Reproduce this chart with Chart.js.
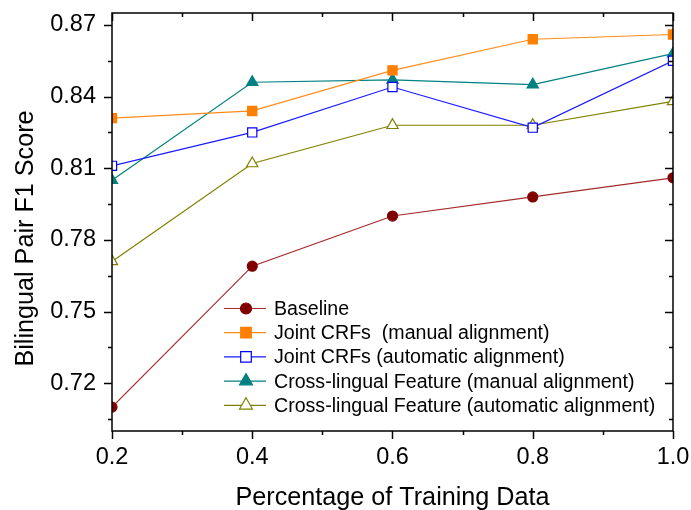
<!DOCTYPE html>
<html>
<head>
<meta charset="utf-8">
<script src="https://cdn.jsdelivr.net/npm/chart.js@4"></script>
<style>
  html, body { margin: 0; padding: 0; background: #fff; }
  #wrap { width: 691px; height: 510px; }
</style>
</head>
<body>
<div id="wrap"><canvas id="f1Chart"></canvas></div>
<script>
// training fraction on x
const fractions = [0.2, 0.4, 0.6, 0.8, 1.0];

// F1 per system
const baseline      = [0.710, 0.769, 0.790, 0.798, 0.806];
const crfManual     = [0.831, 0.834, 0.851, 0.864, 0.866];
const crfAuto       = [0.811, 0.825, 0.844, 0.827, 0.855];
const crossManual   = [0.805, 0.846, 0.847, 0.845, 0.858];
const crossAuto     = [0.771, 0.812, 0.828, 0.828, 0.838];

const yTickValues = [0.72, 0.75, 0.78, 0.81, 0.84, 0.87];

const xTitle = 'Percentage of Training Data';
const yTitle = 'Bilingual Pair F1 Score';

const FONT = '"Liberation Sans", Arial, sans-serif';

function pts(ys) {
  return fractions.map((x, i) => ({ x: x, y: ys[i] }));
}

function series(label, ys, line, fill, stroke, style, r, legendR) {
  return {
    label: label,
    data: pts(ys),
    borderColor: line,
    borderWidth: 1.2,
    pointStyle: style,
    pointRadius: r,
    pointHoverRadius: r,
    pointBackgroundColor: fill,
    pointBorderColor: stroke,
    pointBorderWidth: 1.2,
    legendRadius: legendR,
    tension: 0
  };
}

// axis box with ticks: outward on left/bottom, inward on top/right
const frameTicks = {
  id: 'frameTicks',
  afterDatasetsDraw(chart) {
    const { ctx, chartArea: a, scales: { x, y } } = chart;
    ctx.save();
    ctx.strokeStyle = '#000';
    ctx.lineWidth = 1.5;
    ctx.strokeRect(a.left, a.top, a.right - a.left, a.bottom - a.top);
    ctx.beginPath();
    for (let k = 2; k <= 10; k++) {
      const px = Math.round(x.getPixelForValue(k / 10)) + 0.5;
      const len = k % 2 === 0 ? 8 : 4;
      ctx.moveTo(px, a.bottom); ctx.lineTo(px, a.bottom + len);
      ctx.moveTo(px, a.top); ctx.lineTo(px, a.top + len);
    }
    for (let k = -1; k <= 10; k++) {
      const py = Math.round(y.getPixelForValue(0.72 + k * 0.015)) + 0.5;
      const len = k % 2 === 0 ? 8 : 4;
      ctx.moveTo(a.left, py); ctx.lineTo(a.left - len, py);
      ctx.moveTo(a.right, py); ctx.lineTo(a.right - len, py);
    }
    ctx.stroke();

    // axis titles
    ctx.fillStyle = '#000';
    ctx.font = '25.2px ' + FONT;
    ctx.textAlign = 'center';
    ctx.textBaseline = 'alphabetic';
    ctx.fillText(xTitle, (a.left + a.right) / 2, 505);
    ctx.translate(32.5, 238.5);
    ctx.rotate(-Math.PI / 2);
    ctx.fillText(yTitle, 0, 0);
    ctx.restore();
  }
};

// legend drawn inside the plot area
const innerLegend = {
  id: 'innerLegend',
  afterDraw(chart) {
    const { ctx } = chart;
    const x0 = 224, x1 = 266, tx = 274, top = 308.5, gap = 24.2;
    ctx.save();
    ctx.font = '19.6px ' + FONT;
    ctx.textBaseline = 'middle';
    chart.data.datasets.forEach((ds, i) => {
      const yy = top + i * gap;
      ctx.strokeStyle = ds.borderColor;
      ctx.lineWidth = 1.2;
      ctx.beginPath();
      ctx.moveTo(x0, yy); ctx.lineTo(x1, yy);
      ctx.stroke();
      ctx.fillStyle = ds.pointBackgroundColor;
      ctx.strokeStyle = ds.pointBorderColor;
      Chart.helpers.drawPoint(ctx, {
        pointStyle: ds.pointStyle,
        radius: ds.legendRadius,
        borderWidth: 1.2,
        rotation: 0
      }, 246, yy);
      ctx.fillStyle = '#000';
      ctx.fillText(ds.label, tx, yy + 1);
    });
    ctx.restore();
  }
};

// keep the plot box where the layout padding puts it
function noOverhang(s) {
  s.paddingTop = 0; s.paddingBottom = 0;
  s.paddingLeft = 0; s.paddingRight = 0;
}

new Chart(document.getElementById('f1Chart'), {
  type: 'line',
  data: {
    datasets: [
      series('Baseline', baseline, '#a52a2a', '#800000', '#800000', 'circle', 5, 5.5),
      series('Joint CRFs  (manual alignment)', crfManual, '#ff8c1a', '#ff8000', '#ff8000', 'rect', 6.5, 7.5),
      series('Joint CRFs (automatic alignment)', crfAuto, '#1a1aff', '#ffffff', '#0000ff', 'rect', 6.5, 7.5),
      series('Cross-lingual Feature (manual alignment)', crossManual, '#008080', '#008080', '#008080', 'triangle', 6.5, 7.5),
      series('Cross-lingual Feature (automatic alignment)', crossAuto, '#808000', '#ffffff', '#808000', 'triangle', 6.5, 7.5)
    ]
  },
  options: {
    responsive: true,
    maintainAspectRatio: false,
    animation: false,
    layout: { padding: { top: 13, right: 18, left: 0, bottom: 0 } },
    plugins: {
      legend: { display: false },
      tooltip: { enabled: false }
    },
    scales: {
      x: {
        type: 'linear',
        min: 0.2,
        max: 1.0,
        border: { display: false },
        grid: { display: false },
        ticks: {
          stepSize: 0.2,
          color: '#000',
          font: { family: FONT, size: 23.5 },
          padding: 4,
          callback: v => v.toFixed(1)
        },
        afterFit(s) { s.height = 79; noOverhang(s); }
      },
      y: {
        min: 0.70,
        max: 0.875,
        border: { display: false },
        grid: { display: false },
        afterBuildTicks(s) { s.ticks = yTickValues.map(v => ({ value: v })); },
        ticks: {
          color: '#000',
          font: { family: FONT, size: 23.5 },
          padding: 8,
          callback: v => v.toFixed(2)
        },
        afterFit(s) { s.width = 112; noOverhang(s); }
      }
    }
  },
  plugins: [frameTicks, innerLegend]
});
</script>
</body>
</html>
